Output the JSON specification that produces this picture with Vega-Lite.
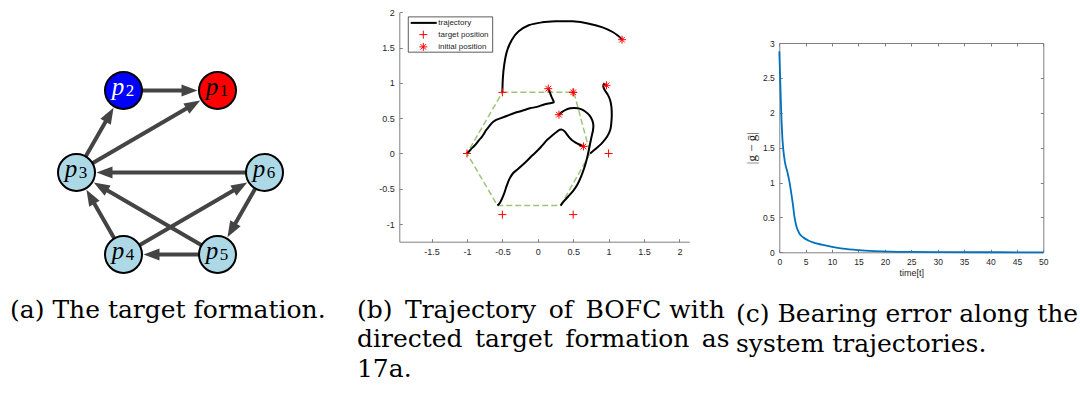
{
  "$schema": "https://vega.github.io/schema/vega-lite/v6.json",
  "width": 1080,
  "height": 401,
  "autosize": {"type": "none"},
  "padding": 0,
  "background": "white",
  "config": {"view": {"stroke": null}, "axis": {"grid": false}},
  "datasets": {
    "nodes": [
      {"id": "p1", "n": "1", "x": 0.5, "y": 1},
      {"id": "p2", "n": "2", "x": -0.5, "y": 1},
      {"id": "p3", "n": "3", "x": -1, "y": 0},
      {"id": "p4", "n": "4", "x": -0.5, "y": -1},
      {"id": "p5", "n": "5", "x": 0.5, "y": -1},
      {"id": "p6", "n": "6", "x": 1, "y": 0}
    ],
    "edges": [
      {"s": "p2", "t": "p1", "x": -0.5, "y": 1, "x2": 0.2021, "y2": 1, "tx": 0.2872, "ty": 1, "angle": 90},
      {"s": "p3", "t": "p2", "x": -1, "y": 0, "x2": -0.6481, "y2": 0.7038, "tx": -0.6058, "ty": 0.7884, "angle": 29.82},
      {"s": "p3", "t": "p1", "x": -1, "y": 0, "x2": 0.2426, "y2": 0.8283, "tx": 0.3161, "ty": 0.8774, "angle": 59.82},
      {"s": "p6", "t": "p3", "x": 1, "y": 0, "x2": -0.7021, "y2": 0, "tx": -0.7872, "ty": 0, "angle": -90},
      {"s": "p6", "t": "p5", "x": 1, "y": 0, "x2": 0.6481, "y2": -0.7038, "tx": 0.6058, "ty": -0.7884, "angle": -150.18},
      {"s": "p5", "t": "p4", "x": 0.5, "y": -1, "x2": -0.2021, "y2": -1, "tx": -0.2872, "ty": -1, "angle": -90},
      {"s": "p4", "t": "p3", "x": -0.5, "y": -1, "x2": -0.8519, "y2": -0.2962, "tx": -0.8942, "ty": -0.2116, "angle": -29.82},
      {"s": "p4", "t": "p6", "x": -0.5, "y": -1, "x2": 0.7426, "y2": -0.1717, "tx": 0.8161, "ty": -0.1226, "angle": 59.82},
      {"s": "p5", "t": "p3", "x": 0.5, "y": -1, "x2": -0.7426, "y2": -0.1717, "tx": -0.8161, "ty": -0.1226, "angle": -59.82}
    ],
    "hex": [
      {"i": 0, "x": -0.5, "y": 0.866},
      {"i": 1, "x": 0.51, "y": 0.866},
      {"i": 2, "x": 0.74, "y": 0.0},
      {"i": 3, "x": 0.322, "y": -0.738},
      {"i": 4, "x": -0.569, "y": -0.738},
      {"i": 5, "x": -1.0, "y": 0.0},
      {"i": 6, "x": -0.5, "y": 0.866}
    ],
    "traj": [
      {"a": "A", "i": 0, "x": 1.19, "y": 1.612},
      {"a": "A", "i": 1, "x": 1.13, "y": 1.67},
      {"a": "A", "i": 2, "x": 1.057, "y": 1.721},
      {"a": "A", "i": 3, "x": 0.915, "y": 1.787},
      {"a": "A", "i": 4, "x": 0.725, "y": 1.839},
      {"a": "A", "i": 5, "x": 0.488, "y": 1.872},
      {"a": "A", "i": 6, "x": 0.251, "y": 1.872},
      {"a": "A", "i": 7, "x": 0.062, "y": 1.858},
      {"a": "A", "i": 8, "x": -0.128, "y": 1.816},
      {"a": "A", "i": 9, "x": -0.27, "y": 1.73},
      {"a": "A", "i": 10, "x": -0.365, "y": 1.612},
      {"a": "A", "i": 11, "x": -0.436, "y": 1.447},
      {"a": "A", "i": 12, "x": -0.474, "y": 1.258},
      {"a": "A", "i": 13, "x": -0.493, "y": 1.069},
      {"a": "A", "i": 14, "x": -0.5, "y": 0.866},
      {"a": "B", "i": 0, "x": 0.148, "y": 0.918},
      {"a": "B", "i": 1, "x": 0.17, "y": 0.865},
      {"a": "B", "i": 2, "x": 0.195, "y": 0.8},
      {"a": "B", "i": 3, "x": 0.225, "y": 0.725},
      {"a": "B", "i": 4, "x": 0.19, "y": 0.715},
      {"a": "B", "i": 5, "x": 0.09, "y": 0.695},
      {"a": "B", "i": 6, "x": -0.01, "y": 0.66},
      {"a": "B", "i": 7, "x": -0.11, "y": 0.64},
      {"a": "B", "i": 8, "x": -0.22, "y": 0.605},
      {"a": "B", "i": 9, "x": -0.34, "y": 0.57},
      {"a": "B", "i": 10, "x": -0.43, "y": 0.535},
      {"a": "B", "i": 11, "x": -0.52, "y": 0.5},
      {"a": "B", "i": 12, "x": -0.6, "y": 0.47},
      {"a": "B", "i": 13, "x": -0.65, "y": 0.43},
      {"a": "B", "i": 14, "x": -0.69, "y": 0.38},
      {"a": "B", "i": 15, "x": -0.73, "y": 0.33},
      {"a": "B", "i": 16, "x": -0.76, "y": 0.28},
      {"a": "B", "i": 17, "x": -0.79, "y": 0.235},
      {"a": "B", "i": 18, "x": -0.83, "y": 0.19},
      {"a": "B", "i": 19, "x": -0.88, "y": 0.125},
      {"a": "B", "i": 20, "x": -0.93, "y": 0.075},
      {"a": "B", "i": 21, "x": -0.965, "y": 0.035},
      {"a": "B", "i": 22, "x": -1.0, "y": 0.0},
      {"a": "D", "i": 0, "x": 0.97, "y": 0.965},
      {"a": "D", "i": 1, "x": 0.935, "y": 0.985},
      {"a": "D", "i": 2, "x": 0.925, "y": 0.95},
      {"a": "D", "i": 3, "x": 0.945, "y": 0.9},
      {"a": "D", "i": 4, "x": 0.99, "y": 0.83},
      {"a": "D", "i": 5, "x": 1.02, "y": 0.76},
      {"a": "D", "i": 6, "x": 1.04, "y": 0.66},
      {"a": "D", "i": 7, "x": 1.045, "y": 0.55},
      {"a": "D", "i": 8, "x": 1.04, "y": 0.45},
      {"a": "D", "i": 9, "x": 1.025, "y": 0.34},
      {"a": "D", "i": 10, "x": 0.98, "y": 0.24},
      {"a": "D", "i": 11, "x": 0.9, "y": 0.14},
      {"a": "D", "i": 12, "x": 0.81, "y": 0.06},
      {"a": "D", "i": 13, "x": 0.74, "y": 0.0},
      {"a": "E", "i": 0, "x": 0.299, "y": 0.549},
      {"a": "E", "i": 1, "x": 0.34, "y": 0.585},
      {"a": "E", "i": 2, "x": 0.4, "y": 0.62},
      {"a": "E", "i": 3, "x": 0.46, "y": 0.64},
      {"a": "E", "i": 4, "x": 0.52, "y": 0.645},
      {"a": "E", "i": 5, "x": 0.6, "y": 0.632},
      {"a": "E", "i": 6, "x": 0.67, "y": 0.595},
      {"a": "E", "i": 7, "x": 0.73, "y": 0.54},
      {"a": "E", "i": 8, "x": 0.77, "y": 0.47},
      {"a": "E", "i": 9, "x": 0.785, "y": 0.4},
      {"a": "E", "i": 10, "x": 0.78, "y": 0.33},
      {"a": "E", "i": 11, "x": 0.76, "y": 0.24},
      {"a": "E", "i": 12, "x": 0.735, "y": 0.12},
      {"a": "E", "i": 13, "x": 0.715, "y": 0.02},
      {"a": "E", "i": 14, "x": 0.69, "y": -0.09},
      {"a": "E", "i": 15, "x": 0.655, "y": -0.21},
      {"a": "E", "i": 16, "x": 0.61, "y": -0.33},
      {"a": "E", "i": 17, "x": 0.56, "y": -0.44},
      {"a": "E", "i": 18, "x": 0.5, "y": -0.53},
      {"a": "E", "i": 19, "x": 0.43, "y": -0.61},
      {"a": "E", "i": 20, "x": 0.37, "y": -0.675},
      {"a": "E", "i": 21, "x": 0.322, "y": -0.738},
      {"a": "F", "i": 0, "x": 0.645, "y": 0.1},
      {"a": "F", "i": 1, "x": 0.6, "y": 0.12},
      {"a": "F", "i": 2, "x": 0.54, "y": 0.15},
      {"a": "F", "i": 3, "x": 0.48, "y": 0.19},
      {"a": "F", "i": 4, "x": 0.43, "y": 0.245},
      {"a": "F", "i": 5, "x": 0.39, "y": 0.3},
      {"a": "F", "i": 6, "x": 0.35, "y": 0.335},
      {"a": "F", "i": 7, "x": 0.31, "y": 0.335},
      {"a": "F", "i": 8, "x": 0.26, "y": 0.3},
      {"a": "F", "i": 9, "x": 0.2, "y": 0.25},
      {"a": "F", "i": 10, "x": 0.13, "y": 0.19},
      {"a": "F", "i": 11, "x": 0.06, "y": 0.11},
      {"a": "F", "i": 12, "x": 0.0, "y": 0.045},
      {"a": "F", "i": 13, "x": -0.08, "y": -0.03},
      {"a": "F", "i": 14, "x": -0.17, "y": -0.12},
      {"a": "F", "i": 15, "x": -0.28, "y": -0.22},
      {"a": "F", "i": 16, "x": -0.35, "y": -0.28},
      {"a": "F", "i": 17, "x": -0.4, "y": -0.36},
      {"a": "F", "i": 18, "x": -0.44, "y": -0.46},
      {"a": "F", "i": 19, "x": -0.48, "y": -0.58},
      {"a": "F", "i": 20, "x": -0.53, "y": -0.69},
      {"a": "F", "i": 21, "x": -0.569, "y": -0.738}
    ],
    "targets": [
      {"x": -0.5, "y": 0.866}, {"x": 0.5, "y": 0.866}, {"x": -1, "y": 0},
      {"x": 1, "y": 0}, {"x": -0.5, "y": -0.866}, {"x": 0.5, "y": -0.866}
    ],
    "inits": [
      {"x": 1.19, "y": 1.612}, {"x": 0.148, "y": 0.918}, {"x": 0.5, "y": 0.866},
      {"x": 0.97, "y": 0.965}, {"x": 0.299, "y": 0.549}, {"x": 0.645, "y": 0.1}
    ],
    "err": [
      {"t": 0, "e": 2.88}, {"t": 0.1, "e": 2.65}, {"t": 0.2, "e": 2.4},
      {"t": 0.3, "e": 2.15}, {"t": 0.42, "e": 1.9}, {"t": 0.55, "e": 1.68},
      {"t": 0.75, "e": 1.48}, {"t": 1.05, "e": 1.3}, {"t": 1.5, "e": 1.16},
      {"t": 1.9, "e": 1.02}, {"t": 2.2, "e": 0.88}, {"t": 2.55, "e": 0.7},
      {"t": 2.85, "e": 0.52}, {"t": 3.25, "e": 0.37}, {"t": 3.8, "e": 0.27},
      {"t": 4.5, "e": 0.215}, {"t": 5.5, "e": 0.17}, {"t": 6.5, "e": 0.14},
      {"t": 8, "e": 0.11}, {"t": 10, "e": 0.078}, {"t": 12, "e": 0.053},
      {"t": 15, "e": 0.031}, {"t": 18, "e": 0.018}, {"t": 21, "e": 0.01},
      {"t": 25, "e": 0.005}, {"t": 30, "e": 0.002}, {"t": 40, "e": 0.0005},
      {"t": 50, "e": 0.0}
    ]
  },
  "layer": [
    {
      "layer": [
        {
          "data": {"name": "edges"},
          "mark": {"type": "rule", "color": "#444444", "strokeWidth": 4},
          "encoding": {
            "x": {"field": "x", "type": "quantitative", "scale": {"domain": [-1.5, 1.5], "range": [29.5, 311.5], "nice": false, "zero": false}, "axis": null},
            "y": {"field": "y", "type": "quantitative", "scale": {"domain": [-1.5, 1.5], "range": [295.5, 49.5], "nice": false, "zero": false}, "axis": null},
            "x2": {"field": "x2"},
            "y2": {"field": "y2"}
          }
        },
        {
          "data": {"name": "edges"},
          "mark": {"type": "point", "shape": "M0,0L0.75,2L-0.75,2Z", "filled": true, "color": "#444444", "size": 256, "opacity": 1, "strokeWidth": 0},
          "encoding": {
            "x": {"field": "tx", "type": "quantitative", "axis": null},
            "y": {"field": "ty", "type": "quantitative", "axis": null},
            "angle": {"field": "angle", "type": "quantitative", "scale": null}
          }
        },
        {
          "data": {"name": "nodes"},
          "mark": {"type": "point", "shape": "circle", "filled": true, "size": 1369, "stroke": "black", "strokeWidth": 2, "opacity": 1},
          "encoding": {
            "x": {"field": "x", "type": "quantitative", "axis": null},
            "y": {"field": "y", "type": "quantitative", "axis": null},
            "fill": {"field": "id", "type": "nominal", "scale": {"domain": ["p1", "p2", "p3", "p4", "p5", "p6"], "range": ["#ff0000", "#0000ff", "#add8e6", "#add8e6", "#add8e6", "#add8e6"]}, "legend": null}
          }
        },
        {
          "data": {"name": "nodes"},
          "mark": {"type": "text", "text": "p", "font": "Liberation Serif", "fontStyle": "italic", "fontSize": 25, "dx": -5.5, "dy": 4, "align": "center", "baseline": "alphabetic"},
          "encoding": {
            "x": {"field": "x", "type": "quantitative", "axis": null},
            "y": {"field": "y", "type": "quantitative", "axis": null},
            "color": {"condition": {"test": "datum.id === 'p2'", "value": "white"}, "value": "black"}
          }
        },
        {
          "data": {"name": "nodes"},
          "mark": {"type": "text", "font": "Liberation Serif", "fontSize": 17, "dx": 6.5, "dy": 5, "align": "center", "baseline": "alphabetic"},
          "encoding": {
            "x": {"field": "x", "type": "quantitative", "axis": null},
            "y": {"field": "y", "type": "quantitative", "axis": null},
            "text": {"field": "n"},
            "color": {"condition": {"test": "datum.id === 'p2'", "value": "white"}, "value": "black"}
          }
        },
        {
          "data": {"values": [{}]},
          "mark": {"type": "text", "text": "(a) The target formation.", "font": "DejaVu Serif", "fontSize": 25, "align": "left", "baseline": "alphabetic", "color": "black"},
          "encoding": {
            "x": {"datum": -1.707, "type": "quantitative", "axis": null},
            "y": {"datum": -1.774, "type": "quantitative", "axis": null}
          }
        }
      ]
    },
    {
      "layer": [
        {
          "data": {"name": "hex"},
          "mark": {"type": "line", "color": "#9cc47a", "strokeWidth": 1.5, "strokeDash": [6, 3]},
          "encoding": {
            "x": {"field": "x", "type": "quantitative", "scale": {"domain": [-1.956, 2.14], "range": [399.3, 689.3], "nice": false, "zero": false},
              "axis": {"orient": "bottom", "offset": -159.3, "values": [-1.5, -1, -0.5, 0, 0.5, 1, 1.5, 2], "format": "~g", "tickSize": -3, "labelPadding": 9, "labelFont": "Liberation Sans", "labelFontSize": 9, "labelColor": "#262626", "domainColor": "#808080", "tickColor": "#808080", "title": null, "labelFlush": false, "labelOverlap": false, "labelExpr": "replace(datum.label, '\u2212', '-')"}},
            "y": {"field": "y", "type": "quantitative", "scale": {"domain": [-1.25, 2.0], "range": [241.7, 12.3], "nice": false, "zero": false},
              "axis": {"orient": "left", "offset": -399.3, "values": [-1, -0.5, 0, 0.5, 1, 1.5, 2], "format": "~g", "tickSize": -3, "labelPadding": 8, "labelFont": "Liberation Sans", "labelFontSize": 9, "labelColor": "#262626", "domainColor": "#808080", "tickColor": "#808080", "title": null, "labelFlush": false, "labelOverlap": false, "labelExpr": "replace(datum.label, '\u2212', '-')"}},
            "order": {"field": "i", "type": "quantitative"}
          }
        },
        {
          "data": {"name": "traj"},
          "mark": {"type": "line", "color": "black", "strokeWidth": 2, "interpolate": "catmull-rom"},
          "encoding": {
            "x": {"field": "x", "type": "quantitative"},
            "y": {"field": "y", "type": "quantitative"},
            "detail": {"field": "a", "type": "nominal"},
            "order": {"field": "i", "type": "quantitative"}
          }
        },
        {
          "data": {"name": "targets"},
          "mark": {"type": "point", "shape": "M-1,0L1,0M0,-1L0,1", "filled": false, "color": "#ff0000", "size": 64, "strokeWidth": 1, "opacity": 1},
          "encoding": {
            "x": {"field": "x", "type": "quantitative"},
            "y": {"field": "y", "type": "quantitative"}
          }
        },
        {
          "data": {"name": "inits"},
          "mark": {"type": "point", "shape": "M-1,0L1,0M0,-1L0,1M-0.7,-0.7L0.7,0.7M-0.7,0.7L0.7,-0.7", "filled": false, "color": "#ff0000", "size": 64, "strokeWidth": 1, "opacity": 1},
          "encoding": {
            "x": {"field": "x", "type": "quantitative"},
            "y": {"field": "y", "type": "quantitative"}
          }
        },
        {
          "data": {"values": [{}]},
          "mark": {"type": "rect", "fill": "white", "stroke": "#333333", "strokeWidth": 0.8},
          "encoding": {
            "x": {"datum": -1.829, "type": "quantitative"},
            "x2": {"datum": -0.637},
            "y": {"datum": 1.935, "type": "quantitative"},
            "y2": {"datum": 1.435}
          }
        },
        {
          "data": {"values": [{}]},
          "mark": {"type": "rule", "color": "black", "strokeWidth": 2},
          "encoding": {
            "x": {"datum": -1.795, "type": "quantitative"},
            "x2": {"datum": -1.428},
            "y": {"datum": 1.85, "type": "quantitative"}
          }
        },
        {
          "data": {"values": [{}]},
          "mark": {"type": "point", "shape": "M-1,0L1,0M0,-1L0,1", "filled": false, "color": "#ff0000", "size": 64, "strokeWidth": 1, "opacity": 1},
          "encoding": {
            "x": {"datum": -1.617, "type": "quantitative"},
            "y": {"datum": 1.684, "type": "quantitative"}
          }
        },
        {
          "data": {"values": [{}]},
          "mark": {"type": "point", "shape": "M-1,0L1,0M0,-1L0,1M-0.7,-0.7L0.7,0.7M-0.7,0.7L0.7,-0.7", "filled": false, "color": "#ff0000", "size": 64, "strokeWidth": 1, "opacity": 1},
          "encoding": {
            "x": {"datum": -1.617, "type": "quantitative"},
            "y": {"datum": 1.51, "type": "quantitative"}
          }
        },
        {
          "data": {"values": [{}]},
          "mark": {"type": "text", "text": "trajectory", "font": "Liberation Sans", "fontSize": 8, "align": "left", "baseline": "middle", "color": "#262626"},
          "encoding": {
            "x": {"datum": -1.405, "type": "quantitative"},
            "y": {"datum": 1.85, "type": "quantitative"}
          }
        },
        {
          "data": {"values": [{}]},
          "mark": {"type": "text", "text": "target position", "font": "Liberation Sans", "fontSize": 8, "align": "left", "baseline": "middle", "color": "#262626"},
          "encoding": {
            "x": {"datum": -1.405, "type": "quantitative"},
            "y": {"datum": 1.684, "type": "quantitative"}
          }
        },
        {
          "data": {"values": [{}]},
          "mark": {"type": "text", "text": "initial position", "font": "Liberation Sans", "fontSize": 8, "align": "left", "baseline": "middle", "color": "#262626"},
          "encoding": {
            "x": {"datum": -1.405, "type": "quantitative"},
            "y": {"datum": 1.51, "type": "quantitative"}
          }
        },
        {
          "data": {"values": [{}]},
          "mark": {"type": "text", "text": ["(b)\u2002Trajectory\u2002of\u2002BOFC with", "directed\u2002target\u2002formation\u2002as", "17a."], "lineHeight": 29.5, "font": "DejaVu Serif", "fontSize": 25, "align": "left", "baseline": "alphabetic", "color": "black"},
          "encoding": {
            "x": {"datum": -2.554, "type": "quantitative"},
            "y": {"datum": -2.329, "type": "quantitative"}
          }
        }
      ]
    },
    {
      "layer": [
        {
          "data": {"name": "err"},
          "mark": {"type": "line", "color": "#0072bd", "strokeWidth": 1.8, "interpolate": "monotone"},
          "encoding": {
            "x": {"field": "t", "type": "quantitative", "scale": {"domain": [0, 50], "range": [779.3, 1043.3], "nice": false, "zero": false},
              "axis": {"orient": "bottom", "offset": -148.7, "values": [0, 5, 10, 15, 20, 25, 30, 35, 40, 45, 50], "format": "~g", "tickSize": -3, "labelPadding": 8, "labelFont": "Liberation Sans", "labelFontSize": 8.5, "labelColor": "#262626", "domainColor": "#808080", "tickColor": "#808080", "labelFlush": false, "labelOverlap": false, "title": "time[t]", "titleFont": "Liberation Sans", "titleFontSize": 9, "titleFontWeight": "normal", "titleColor": "#262626", "titlePadding": 3}},
            "y": {"field": "e", "type": "quantitative", "scale": {"domain": [0, 3], "range": [252.3, 43], "nice": false, "zero": false},
              "axis": {"orient": "left", "offset": -779.3, "values": [0, 0.5, 1, 1.5, 2, 2.5, 3], "format": "~g", "tickSize": -3, "labelPadding": 8, "labelFont": "Liberation Sans", "labelFontSize": 8.5, "labelColor": "#262626", "domainColor": "#808080", "tickColor": "#808080", "labelFlush": false, "labelOverlap": false, "title": "|g \u2212 \u1e21|", "titleFont": "Liberation Serif", "titleFontSize": 13, "titleFontWeight": "normal", "titleColor": "#262626", "titlePadding": 4}}
          }
        },
        {
          "data": {"values": [{}]},
          "mark": {"type": "text", "text": ["(c) Bearing error along the", "system trajectories."], "lineHeight": 29.7, "font": "DejaVu Serif", "fontSize": 25, "align": "left", "baseline": "alphabetic", "color": "black"},
          "encoding": {
            "x": {"datum": -8.2, "type": "quantitative"},
            "y": {"datum": -0.999, "type": "quantitative"}
          }
        }
      ]
    },
    {
      "data": {"values": [{"t": 0, "e": 0}]},
      "mark": {"type": "point", "opacity": 0},
      "encoding": {
        "x": {"field": "t", "type": "quantitative", "scale": {"domain": [0, 50], "range": [779.3, 1043.3], "nice": false, "zero": false},
          "axis": {"orient": "top", "offset": -43, "values": [0, 5, 10, 15, 20, 25, 30, 35, 40, 45, 50], "tickSize": -3, "labels": false, "domainColor": "#808080", "tickColor": "#808080", "title": null}},
        "y": {"field": "e", "type": "quantitative", "scale": {"domain": [0, 3], "range": [252.3, 43], "nice": false, "zero": false},
          "axis": {"orient": "right", "offset": -36.7, "values": [0, 0.5, 1, 1.5, 2, 2.5, 3], "tickSize": -3, "labels": false, "domainColor": "#808080", "tickColor": "#808080", "title": null}}
      }
    }
  ],
  "resolve": {
    "scale": {"x": "independent", "y": "independent"},
    "axis": {"x": "independent", "y": "independent"}
  }
}
